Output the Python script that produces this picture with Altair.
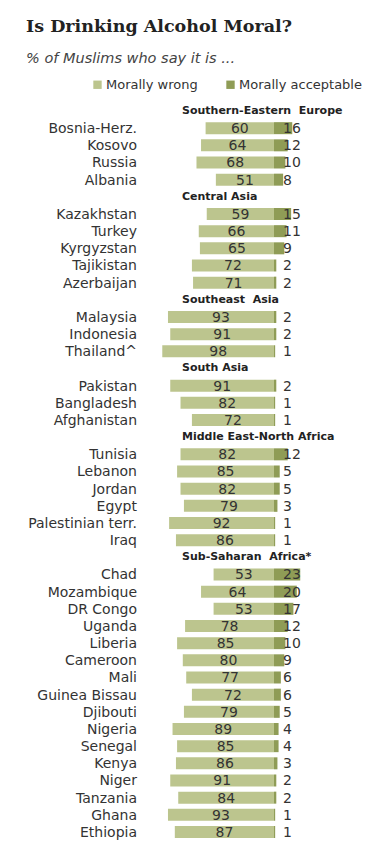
import altair as alt
import pandas as pd

title = "Is Drinking Alcohol Moral?"
subtitle = "% of Muslims who say it is ..."
series_names = ["Morally wrong", "Morally acceptable"]

regions = [
    "Southern-Eastern\u00a0 Europe",
    "Central Asia",
    "Southeast\u00a0 Asia",
    "South Asia",
    "Middle East-North Africa",
    "Sub-Saharan\u00a0 Africa*",
]
countries = [
    ["Bosnia-Herz.", "Kosovo", "Russia", "Albania"],
    ["Kazakhstan", "Turkey", "Kyrgyzstan", "Tajikistan", "Azerbaijan"],
    ["Malaysia", "Indonesia", "Thailand^"],
    ["Pakistan", "Bangladesh", "Afghanistan"],
    ["Tunisia", "Lebanon", "Jordan", "Egypt", "Palestinian terr.", "Iraq"],
    ["Chad", "Mozambique", "DR Congo", "Uganda", "Liberia", "Cameroon", "Mali",
     "Guinea Bissau", "Djibouti", "Nigeria", "Senegal", "Kenya", "Niger",
     "Tanzania", "Ghana", "Ethiopia"],
]
wrong = [
    [60, 64, 68, 51],
    [59, 66, 65, 72, 71],
    [93, 91, 98],
    [91, 82, 72],
    [82, 85, 82, 79, 92, 86],
    [53, 64, 53, 78, 85, 80, 77, 72, 79, 89, 85, 86, 91, 84, 93, 87],
]
acceptable = [
    [16, 12, 10, 8],
    [15, 11, 9, 2, 2],
    [2, 2, 1],
    [2, 1, 1],
    [12, 5, 5, 3, 1, 1],
    [23, 20, 17, 12, 10, 9, 6, 6, 5, 4, 4, 3, 2, 2, 1, 1],
]

# build tables
head_rows, rows, bars = [], [], []
slot = 0
for r, cs, ws, accs in zip(regions, countries, wrong, acceptable):
    head_rows.append({"slot": slot, "label": r})
    slot += 1
    for c, w, a in zip(cs, ws, accs):
        rows.append({"slot": slot, "country": c, "wrong": w, "acc": a})
        bars.append({"slot": slot, "type": series_names[0], "x0": -w, "x1": 0})
        bars.append({"slot": slot, "type": series_names[1], "x0": 0, "x1": a})
        slot += 1

heads = pd.DataFrame(head_rows)
df = pd.DataFrame(rows)
bdf = pd.DataFrame(bars)

W, H = 361, 836
xscale = alt.Scale(domain=[-233.3, 83.3], nice=False, zero=False)
yscale = alt.Scale(domain=[-6.0, 42.7], nice=False, zero=False, reverse=True)
FONT = "DejaVu Sans"
TXT = "#333333"

barl = alt.Chart(bdf).transform_calculate(
    ya="datum.slot - 0.35", yb="datum.slot + 0.35"
).mark_rect().encode(
    x=alt.X("x0:Q", scale=xscale, axis=None),
    x2="x1:Q",
    y=alt.Y("ya:Q", scale=yscale, axis=None),
    y2="yb:Q",
    color=alt.Color(
        "type:N",
        scale=alt.Scale(domain=series_names, range=["#bcc58e", "#8f9c56"]),
        legend=alt.Legend(
            title=None, orient="none", legendX=83, legendY=70,
            direction="horizontal", symbolType="square", symbolSize=70,
            symbolStrokeWidth=0, labelFontSize=13, labelFont=FONT,
            labelColor=TXT, columnPadding=26, labelOffset=2,
        ),
    ),
)

wrong_lbl = alt.Chart(df).transform_calculate(
    xm="-datum.wrong / 2"
).mark_text(font=FONT, fontSize=14, color=TXT, align="center", baseline="middle", dy=1).encode(
    x=alt.X("xm:Q", scale=xscale),
    y=alt.Y("slot:Q", scale=yscale),
    text="wrong:Q",
)

acc_lbl = alt.Chart(df).transform_calculate(
    x0="0"
).mark_text(font=FONT, fontSize=14, color=TXT, align="left", baseline="middle", dx=9, dy=1).encode(
    x=alt.X("x0:Q", scale=xscale),
    y=alt.Y("slot:Q", scale=yscale),
    text="acc:Q",
)

country_lbl = alt.Chart(df).mark_text(
    font=FONT, fontSize=14, color=TXT, align="right", baseline="middle", dy=1
).encode(
    x=alt.value(129),
    y=alt.Y("slot:Q", scale=yscale),
    text="country:N",
)

head_lbl = alt.Chart(heads).mark_text(
    font=FONT, fontSize=11, fontWeight="bold", color="#222222", align="left", baseline="middle"
).encode(
    x=alt.value(174),
    y=alt.Y("slot:Q", scale=yscale),
    text="label:N",
)

title_lbl = alt.Chart(pd.DataFrame({"t": [title]})).mark_text(
    font="DejaVu Serif", fontSize=17.5, fontWeight="bold", color="#222222",
    align="left", baseline="alphabetic"
).encode(x=alt.value(18), y=alt.value(24), text="t:N")

sub_lbl = alt.Chart(pd.DataFrame({"t": [subtitle]})).mark_text(
    font=FONT, fontSize=14.5, fontStyle="italic", color="#444444",
    align="left", baseline="alphabetic"
).encode(x=alt.value(18), y=alt.value(55), text="t:N")

chart = alt.layer(
    barl, wrong_lbl, acc_lbl, country_lbl, head_lbl, title_lbl, sub_lbl
).properties(
    width=W, height=H, padding=0, autosize=alt.AutoSizeParams(type="none"),
    background="white",
).configure_view(stroke=None)

chart.save("out.html", embed_options={"renderer": "svg", "actions": False})
